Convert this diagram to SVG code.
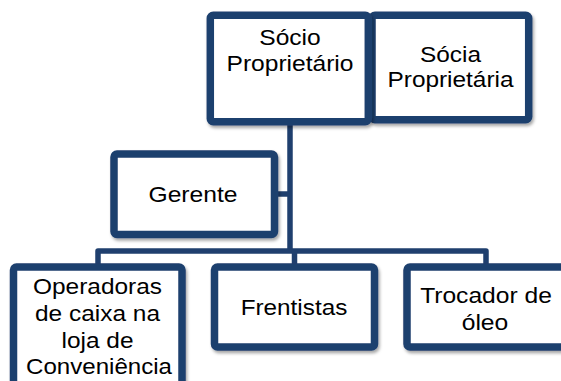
<svg xmlns="http://www.w3.org/2000/svg" width="561" height="381" viewBox="0 0 561 381">
  <defs>
    <filter id="sh" x="-10%" y="-10%" width="125%" height="130%">
      <feDropShadow dx="1.5" dy="2.5" stdDeviation="1.8" flood-color="#000" flood-opacity="0.35"/>
    </filter>
  </defs>
  <style>
    .box { fill: #ffffff; stroke: #1F3F6E; stroke-width: 7.5; filter: url(#sh); }
    .con { fill: none; stroke: #1F3F6E; stroke-width: 5.5; stroke-linejoin: round; }
    .t { font-family: "Liberation Sans", Arial, sans-serif; font-size: 22px; fill: #000; text-anchor: middle; }
  </style>
  <rect width="561" height="381" fill="#ffffff"/>
  <g id="connectors">
    <path class="con" d="M290,121 V251"/>
    <path class="con" d="M277,194 H290"/>
    <path class="con" d="M98,267 V251 H486 V267"/>
    <path class="con" d="M294.5,251 V267"/>
  </g>
  <g id="socia">
    <rect class="box" x="372" y="15.3" width="156.7" height="104.4" rx="3"/>
    <text class="t" x="450.5" y="61.7" textLength="61" lengthAdjust="spacingAndGlyphs">Sócia</text>
    <text class="t" x="450.5" y="87.3" textLength="126" lengthAdjust="spacingAndGlyphs">Proprietária</text>
  </g>
  <g id="socio">
    <rect class="box" x="210.3" y="15.3" width="158" height="106.4" rx="3"/>
    <text class="t" x="290" y="44.5" textLength="61.5" lengthAdjust="spacingAndGlyphs">Sócio</text>
    <text class="t" x="290" y="70.8" textLength="127" lengthAdjust="spacingAndGlyphs">Proprietário</text>
  </g>
  <g id="gerente">
    <rect class="box" x="114" y="154" width="160.5" height="80.5" rx="3"/>
    <text class="t" x="193" y="202" textLength="89" lengthAdjust="spacingAndGlyphs">Gerente</text>
  </g>
  <g id="operadoras">
    <rect class="box" x="13.5" y="267" width="168.5" height="130" rx="3"/>
    <text class="t" x="97.5" y="294.3" textLength="129" lengthAdjust="spacingAndGlyphs">Operadoras</text>
    <text class="t" x="97.5" y="321" textLength="125" lengthAdjust="spacingAndGlyphs">de caixa na</text>
    <text class="t" x="97.5" y="347.7" textLength="72" lengthAdjust="spacingAndGlyphs">loja de</text>
    <text class="t" x="99" y="374.3" textLength="146" lengthAdjust="spacingAndGlyphs">Conveniência</text>
  </g>
  <g id="frentistas">
    <rect class="box" x="214.5" y="267" width="160" height="80" rx="3"/>
    <text class="t" x="294" y="315" textLength="106.6" lengthAdjust="spacingAndGlyphs">Frentistas</text>
  </g>
  <g id="trocador">
    <rect class="box" x="407" y="267" width="158" height="80" rx="3"/>
    <text class="t" x="486" y="302.7" textLength="131.7" lengthAdjust="spacingAndGlyphs">Trocador de</text>
    <text class="t" x="485" y="330" textLength="46.6" lengthAdjust="spacingAndGlyphs">óleo</text>
  </g>
</svg>
